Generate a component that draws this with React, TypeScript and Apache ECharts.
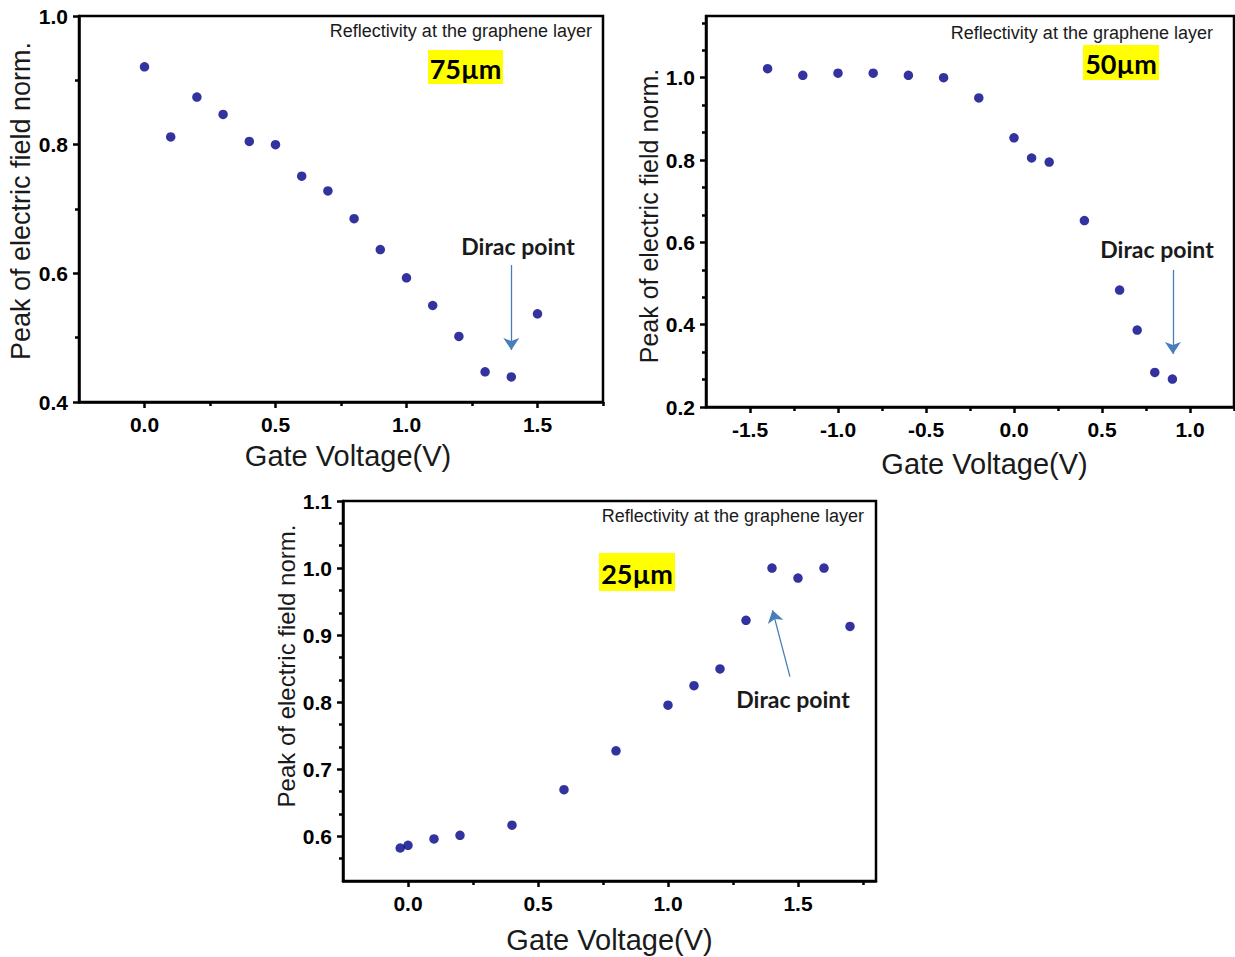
import React, { useEffect, useRef } from "react";
import * as echarts from "echarts";

// ---------- data ----------
const voltage75 = [0.0, 0.1, 0.2, 0.3, 0.4, 0.5, 0.6, 0.7, 0.8, 0.9, 1.0, 1.1, 1.2, 1.3, 1.4, 1.5];
const field75 = [0.921, 0.812, 0.874, 0.847, 0.805, 0.8, 0.751, 0.728, 0.685, 0.637, 0.593, 0.55, 0.502, 0.447, 0.439, 0.537];

const voltage50 = [-1.4, -1.2, -1.0, -0.8, -0.6, -0.4, -0.2, 0.0, 0.1, 0.2, 0.4, 0.6, 0.7, 0.8, 0.9];
const field50 = [1.022, 1.006, 1.011, 1.011, 1.006, 1.0, 0.951, 0.854, 0.805, 0.795, 0.653, 0.484, 0.387, 0.284, 0.268];

const voltage25 = [-0.03, 0.0, 0.1, 0.2, 0.4, 0.6, 0.8, 1.0, 1.1, 1.2, 1.3, 1.4, 1.5, 1.6, 1.7];
const field25 = [0.5825, 0.5865, 0.596, 0.6015, 0.6165, 0.6695, 0.7275, 0.7955, 0.8245, 0.8495, 0.922, 1.0, 0.985, 1.0, 0.913];

// tick values
const xMajor75 = [0, 0.5, 1.0, 1.5];
const xMinor75 = [0.25, 0.75, 1.25, 1.75];
const yMajor75 = [0.4, 0.6, 0.8, 1.0];
const yMinor75 = [0.5, 0.7, 0.9];

const xMajor50 = [-1.5, -1.0, -0.5, 0, 0.5, 1.0];
const xMinor50 = [-1.25, -0.75, -0.25, 0.25, 0.75, 1.25];
const yMajor50 = [0.2, 0.4, 0.6, 0.8, 1.0];
const yMinor50 = [0.2667, 0.3333, 0.4667, 0.5333, 0.6667, 0.7333, 0.8667, 0.9333, 1.0667, 1.1333];

const xMajor25 = [0, 0.5, 1.0, 1.5];
const xMinor25 = [0.25, 0.75, 1.25, 1.75];
const yMajor25 = [0.6, 0.7, 0.8, 0.9, 1.0, 1.1];
const yMinor25 = [0.5667, 0.6333, 0.6667, 0.7333, 0.7667, 0.8333, 0.8667, 0.9333, 0.9667, 1.0333, 1.0667];

// annotation arrows (start -> end, in data units)
const arrow75 = [[1.4, 0.613], [1.4, 0.481]];
const arrow50 = [[0.903, 0.533], [0.903, 0.329]];
const arrow25 = [[1.469, 0.838], [1.402, 0.937]];

const titleText = "Reflectivity at the graphene layer";
const diracText = "Dirac point";
const xName = "Gate Voltage(V)";
const yName = "Peak of electric field norm.";

const ARIAL = '"Liberation Sans", Arial, sans-serif';
const DOT = "#000088";
const ARROW = "#4a7ebb";

type PanelCfg = {
  grid: { left: number; top: number; width: number; height: number };
  xRange: [number, number];
  yRange: [number, number];
  xMajor: number[];
  xMinor: number[];
  yMajor: number[];
  yMinor: number[];
  xs: number[];
  ys: number[];
  arrow: number[][];
  xNameGap: number;
  yNameGap: number;
  xNameSize: number;
  yNameSize: number;
  xNamePad: number[];
  yNamePad: number[];
};

const panels: PanelCfg[] = [
  {
    grid: { left: 79, top: 16, width: 524, height: 386 },
    xRange: [-0.25, 1.75],
    yRange: [0.4, 1.0],
    xMajor: xMajor75, xMinor: xMinor75, yMajor: yMajor75, yMinor: yMinor75,
    xs: voltage75, ys: field75, arrow: arrow75,
    xNameGap: 39, yNameGap: 38, xNameSize: 29, yNameSize: 27,
    xNamePad: [0, 0, 0, 14], yNamePad: [0, 0, 0, 16],
  },
  {
    grid: { left: 706, top: 16, width: 528, height: 391 },
    xRange: [-1.75, 1.25],
    yRange: [0.2, 1.15],
    xMajor: xMajor50, xMinor: xMinor50, yMajor: yMajor50, yMinor: yMinor50,
    xs: voltage50, ys: field50, arrow: arrow50,
    xNameGap: 42, yNameGap: 44, xNameSize: 29, yNameSize: 25,
    xNamePad: [0, 0, 0, 29], yNamePad: [0, 9, 0, 0],
  },
  {
    grid: { left: 343, top: 501, width: 533, height: 380 },
    xRange: [-0.25, 1.8],
    yRange: [0.5333, 1.1],
    xMajor: xMajor25, xMinor: xMinor25, yMajor: yMajor25, yMinor: yMinor25,
    xs: voltage25, ys: field25, arrow: arrow25,
    xNameGap: 44, yNameGap: 44, xNameSize: 29, yNameSize: 24,
    xNamePad: [0, 0, 0, 0], yNamePad: [0, 0, 0, 50],
  },
];

const annotations = [
  { titleX: 592, titleY: 31, box: [428, 50, 75, 34], label: "75µm", diracX: 518, diracY: 246 },
  { titleX: 1213, titleY: 33, box: [1083, 45, 76, 35], label: "50µm", diracX: 1157, diracY: 249 },
  { titleX: 864, titleY: 516, box: [599, 553, 76, 38], label: "25µm", diracX: 793, diracY: 699 },
];

function buildOption() {
  const grid: any[] = [];
  const xAxis: any[] = [];
  const yAxis: any[] = [];
  const series: any[] = [];
  const graphic: any[] = [];

  panels.forEach((p, i) => {
    grid.push({
      ...p.grid,
      show: true,
      borderColor: "#000",
      borderWidth: 2.5,
      backgroundColor: "transparent",
      containLabel: false,
      outerBoundsMode: "none",
    });
    const tickStyle = { color: "#000", width: 2.5 };
    const labelStyle = {
      color: "#000",
      fontFamily: ARIAL,
      fontWeight: "bold",
      fontSize: 21,
      formatter: (v: number) => v.toFixed(1),
    };
    xAxis.push({
      type: "value",
      gridIndex: i,
      min: p.xRange[0],
      max: p.xRange[1],
      position: "bottom",
      axisLine: { show: true, onZero: false, lineStyle: { color: "#000", width: 2.5 } },
      axisTick: { show: true, customValues: p.xMajor, length: 6, lineStyle: tickStyle },
      axisLabel: { show: true, customValues: p.xMajor, margin: 12, ...labelStyle },
      splitLine: { show: false },
      name: xName,
      nameLocation: "middle",
      nameGap: p.xNameGap,
      nameTextStyle: { fontFamily: ARIAL, fontSize: p.xNameSize, color: "#1a1a1a", padding: p.xNamePad },
    });
    xAxis.push({
      type: "value",
      gridIndex: i,
      min: p.xRange[0],
      max: p.xRange[1],
      position: "bottom",
      axisLine: { show: false, onZero: false },
      axisTick: { show: true, customValues: p.xMinor, length: 4, lineStyle: tickStyle },
      axisLabel: { show: false },
      splitLine: { show: false },
    });
    yAxis.push({
      type: "value",
      gridIndex: i,
      min: p.yRange[0],
      max: p.yRange[1],
      position: "left",
      axisLine: { show: true, onZero: false, lineStyle: { color: "#000", width: 2.5 } },
      axisTick: { show: true, customValues: p.yMajor, length: 6, lineStyle: tickStyle },
      axisLabel: { show: true, customValues: p.yMajor, margin: 11, ...labelStyle },
      splitLine: { show: false },
      name: yName,
      nameLocation: "middle",
      nameGap: p.yNameGap,
      nameTextStyle: { fontFamily: ARIAL, fontSize: p.yNameSize, color: "#1a1a1a", padding: p.yNamePad },
    });
    yAxis.push({
      type: "value",
      gridIndex: i,
      min: p.yRange[0],
      max: p.yRange[1],
      position: "left",
      axisLine: { show: false, onZero: false },
      axisTick: { show: true, customValues: p.yMinor, length: 4, lineStyle: tickStyle },
      axisLabel: { show: false },
      splitLine: { show: false },
    });

    series.push({
      type: "scatter",
      xAxisIndex: i * 2,
      yAxisIndex: i * 2,
      data: p.xs.map((x, k) => [x, p.ys[k]]),
      symbol: "circle",
      symbolSize: 9.5,
      itemStyle: { color: DOT },
      markLine: {
        silent: true,
        symbol: ["none", "arrow"],
        symbolSize: 12,
        label: { show: false },
        lineStyle: { color: ARROW, width: 1.3, type: "solid" },
        emphasis: { disabled: true },
        data: [[{ coord: p.arrow[0] }, { coord: p.arrow[1] }]],
      },
    });

    const a = annotations[i];
    graphic.push({
      type: "text",
      x: a.titleX,
      y: a.titleY,
      silent: true,
      style: {
        text: titleText,
        fill: "#1a1a1a",
        font: `18px ${ARIAL}`,
        textAlign: "right",
        textVerticalAlign: "middle",
      },
    });
    graphic.push({
      type: "rect",
      silent: true,
      shape: { x: a.box[0], y: a.box[1], width: a.box[2], height: a.box[3] },
      style: { fill: "#ffff00" },
    });
    graphic.push({
      type: "text",
      x: a.box[0] + a.box[2] / 2,
      y: a.box[1] + a.box[3] / 2 + 1,
      silent: true,
      style: {
        text: a.label,
        fill: "#000",
        font: "bold 27px Lato, sans-serif",
        textAlign: "center",
        textVerticalAlign: "middle",
      },
    });
    graphic.push({
      type: "text",
      x: a.diracX,
      y: a.diracY,
      silent: true,
      style: {
        text: diracText,
        fill: "#1a1a1a",
        font: "bold 23px Lato, sans-serif",
        textAlign: "center",
        textVerticalAlign: "middle",
      },
    });
  });

  return {
    animation: false,
    backgroundColor: "#ffffff",
    grid,
    xAxis,
    yAxis,
    series,
    graphic,
  };
}

export default function App() {
  const ref = useRef<HTMLDivElement>(null);
  useEffect(() => {
    if (!ref.current) return;
    const chart = echarts.init(ref.current, null, { renderer: "svg" });
    chart.setOption(buildOption() as any);
    return () => chart.dispose();
  }, []);
  return (
    <div
      ref={ref}
      style={{ position: "absolute", left: 0, top: 0, width: 1235, height: 957, background: "#fff" }}
    />
  );
}
